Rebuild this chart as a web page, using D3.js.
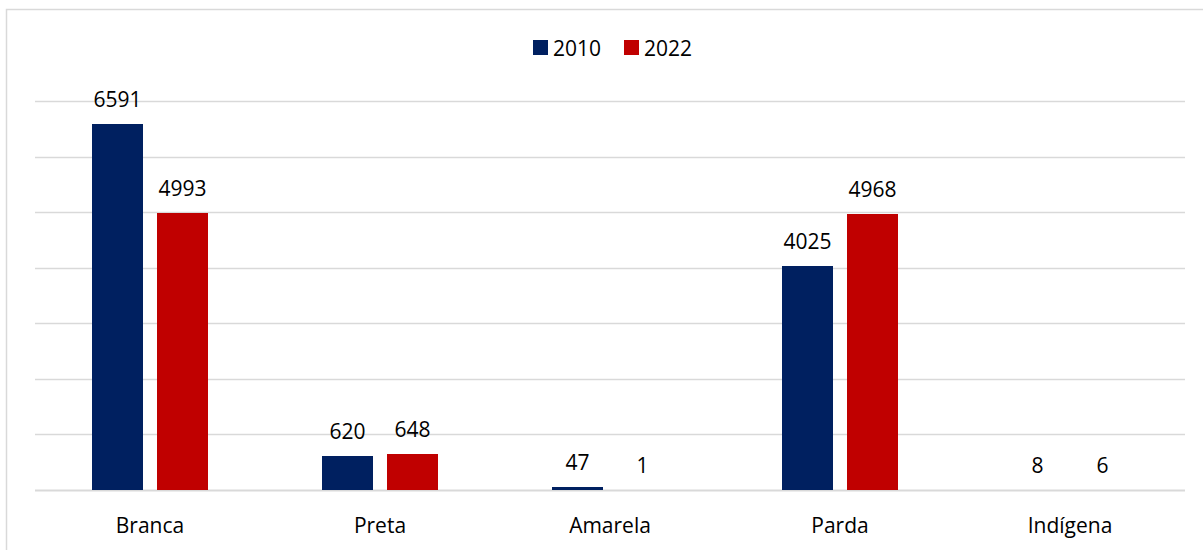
<!DOCTYPE html>
<html>
<head>
<meta charset="utf-8">
<script src="https://cdn.jsdelivr.net/npm/d3@7"></script>
<style>
  body { margin: 0; background: #fff; }
  text { font-family: "Open Sans", "Noto Sans", sans-serif; fill: #000; }
</style>
</head>
<body>
<script>
'use strict';

const categories = ["Branca", "Preta", "Amarela", "Parda", "Indígena"];
const series = ["2010", "2022"];
const values2010 = [6591, 620, 47, 4025, 8];
const values2022 = [4993, 648, 1, 4968, 6];
const colors = ["#002060", "#C00000"];
const yTicks = [0, 1000, 2000, 3000, 4000, 5000, 6000, 7000];

const width = 1203, height = 550;
const fontSize = '21px';

const svg = d3.select('body').append('svg')
  .attr('width', width)
  .attr('height', height);

// chart frame
svg.append('rect')
  .attr('x', 6.5).attr('y', 9.5)
  .attr('width', width).attr('height', height)
  .attr('fill', 'none')
  .attr('stroke', '#d9d9d9')
  .attr('stroke-width', 1.5);

const x = d3.scaleBand()
  .domain(categories)
  .range([35, 1185]);

// two bars of 51px with a 14px gap inside each 230px band
const xInner = d3.scaleBand()
  .domain(series)
  .range([57, 173])
  .paddingInner(14 / 65);

const y = d3.scaleLinear()
  .domain([0, 7000])
  .range([490, 101]);

// gridlines
svg.append('g')
  .selectAll('line')
  .data(yTicks)
  .enter()
  .append('line')
    .attr('x1', 35).attr('x2', 1185)
    .attr('y1', (d) => Math.round(y(d)) + 0.5)
    .attr('y2', (d) => Math.round(y(d)) + 0.5)
    .attr('stroke', '#d9d9d9')
    .attr('stroke-width', (d) => d === 0 ? 2 : 1.5);

// bars + labels
const rows = categories.map((c, i) => ({cat: c, vals: [values2010[i], values2022[i]]}));

const groups = svg.selectAll('.cat')
  .data(rows)
  .enter()
  .append('g')
    .attr('class', 'cat')
    .attr('transform', (d) => 'translate(' + x(d.cat) + ',0)');

groups.selectAll('rect')
  .data((d) => d.vals.map((v, j) => ({s: series[j], v: v, j: j})))
  .enter()
  .append('rect')
    .attr('x', (d) => xInner(d.s))
    .attr('width', xInner.bandwidth())
    .attr('y', (d) => Math.round(y(d.v)))
    .attr('height', (d) => Math.round(y(0)) - Math.round(y(d.v)))
    .attr('fill', (d) => colors[d.j]);

groups.selectAll('text.val')
  .data((d) => d.vals.map((v, j) => ({s: series[j], v: v})))
  .enter()
  .append('text')
    .attr('class', 'val')
    .attr('x', (d) => xInner(d.s) + xInner.bandwidth() / 2)
    .attr('y', (d) => y(d.v) - 17)
    .attr('text-anchor', 'middle')
    .style('font-size', fontSize)
    .text((d) => d.v);

// category labels
svg.append('g')
  .selectAll('text')
  .data(categories)
  .enter()
  .append('text')
    .attr('x', (d) => x(d) + x.bandwidth() / 2)
    .attr('y', 533)
    .attr('text-anchor', 'middle')
    .style('font-size', fontSize)
    .text((d) => d);

// legend
const legend = svg.append('g');
const legendX = [533, 624];
series.forEach((s, i) => {
  legend.append('rect')
    .attr('x', legendX[i]).attr('y', 40)
    .attr('width', 15).attr('height', 15)
    .attr('fill', colors[i]);
  legend.append('text')
    .attr('x', legendX[i] + 20)
    .attr('y', 56)
    .style('font-size', fontSize)
    .text(s);
});
</script>
</body>
</html>
